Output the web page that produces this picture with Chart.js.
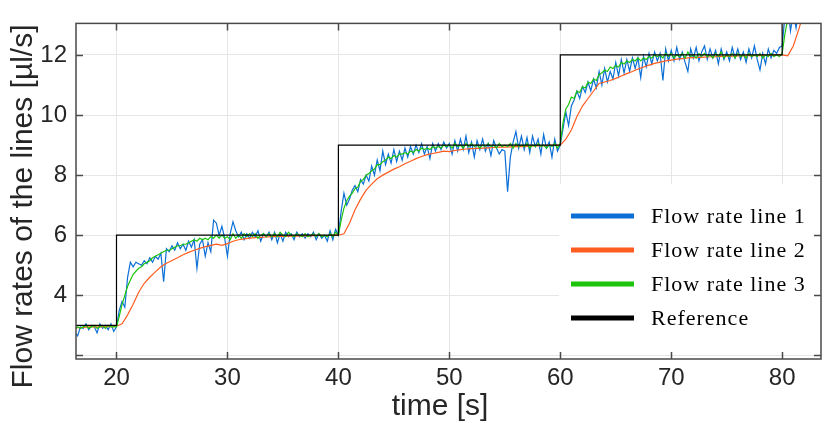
<!DOCTYPE html>
<html>
<head>
<meta charset="utf-8">
<script src="https://cdn.jsdelivr.net/npm/chart.js@4.4.0/dist/chart.umd.min.js"></script>
<style>
html, body { margin: 0; padding: 0; background: #fff; }
#wrap { width: 829px; height: 423px; }
</style>
</head>
<body>
<div id="wrap"><canvas id="flow_canvas"></canvas></div>
<script>
// sample times [s] for line 1 and line 3
const time = [
	16.25, 16.5, 16.75,
	17, 17.25, 17.5, 17.75, 18, 18.25, 18.5, 18.75, 19, 19.25, 19.5, 19.75,
	20, 20.25, 20.5, 20.75, 21, 21.25, 21.5, 21.75, 22, 22.25, 22.5, 22.75,
	23, 23.25, 23.5, 23.75, 24, 24.25, 24.5, 24.75, 25, 25.25, 25.5, 25.75,
	26, 26.25, 26.5, 26.75, 27, 27.25, 27.5, 27.75, 28, 28.25, 28.5, 28.75,
	29, 29.25, 29.5, 29.75, 30, 30.25, 30.5, 30.75, 31, 31.25, 31.5, 31.75,
	32, 32.25, 32.5, 32.75, 33, 33.25, 33.5, 33.75, 34, 34.25, 34.5, 34.75,
	35, 35.25, 35.5, 35.75, 36, 36.25, 36.5, 36.75, 37, 37.25, 37.5, 37.75,
	38, 38.25, 38.5, 38.75, 39, 39.25, 39.5, 39.75, 40, 40.25, 40.5, 40.75,
	41, 41.25, 41.5, 41.75, 42, 42.25, 42.5, 42.75, 43, 43.25, 43.5, 43.75,
	44, 44.25, 44.5, 44.75, 45, 45.25, 45.5, 45.75, 46, 46.25, 46.5, 46.75,
	47, 47.25, 47.5, 47.75, 48, 48.25, 48.5, 48.75, 49, 49.25, 49.5, 49.75,
	50, 50.25, 50.5, 50.75, 51, 51.25, 51.5, 51.75, 52, 52.25, 52.5, 52.75,
	53, 53.25, 53.5, 53.75, 54, 54.25, 54.5, 54.75, 55, 55.25, 55.5, 55.75,
	56, 56.25, 56.5, 56.75, 57, 57.25, 57.5, 57.75, 58, 58.25, 58.5, 58.75,
	59, 59.25, 59.5, 59.75, 60, 60.25, 60.5, 60.75, 61, 61.25, 61.5, 61.75,
	62, 62.25, 62.5, 62.75, 63, 63.25, 63.5, 63.75, 64, 64.25, 64.5, 64.75,
	65, 65.25, 65.5, 65.75, 66, 66.25, 66.5, 66.75, 67, 67.25, 67.5, 67.75,
	68, 68.25, 68.5, 68.75, 69, 69.25, 69.5, 69.75, 70, 70.25, 70.5, 70.75,
	71, 71.25, 71.5, 71.75, 72, 72.25, 72.5, 72.75, 73, 73.25, 73.5, 73.75,
	74, 74.25, 74.5, 74.75, 75, 75.25, 75.5, 75.75, 76, 76.25, 76.5, 76.75,
	77, 77.25, 77.5, 77.75, 78, 78.25, 78.5, 78.75, 79, 79.25, 79.5, 79.75,
	80, 80.25, 80.5, 80.75, 81, 81.25, 81.5, 81.75, 82
];

const line1 = [
	2.75, 2.65, 2.95,
	2.9, 3.05, 2.85, 3.0, 2.95, 2.75, 3.05, 2.9, 3.0, 2.85, 3.05, 2.8,
	2.95, 3.5, 3.8, 3.6, 4.6, 5.1, 4.95, 5.1, 5.05, 5.0, 5.15, 5.05,
	5.25, 5.1, 5.3, 5.2, 5.4, 4.45, 5.55, 5.45, 5.65, 5.5, 5.75, 5.55,
	5.7, 5.5, 5.8, 5.6, 5.85, 4.9, 5.7, 5.85, 5.3, 5.75, 5.45, 6.5,
	6.4, 6.0, 6.3, 5.9, 5.3, 6.05, 6.45, 6.15, 5.95, 6.1, 5.85, 6.05,
	5.9, 6.1, 5.95, 6.15, 5.8, 6.05, 5.95, 6.1, 5.85, 6.1, 5.75, 6.05,
	5.8, 6.1, 5.95, 6.05, 5.85, 6.1, 5.95, 6.05, 5.9, 6.05, 5.95, 6.1,
	5.85, 6.05, 5.9, 6.0, 5.8, 6.15, 5.85, 6.2, 6.0, 6.8, 7.4, 7.0,
	7.2, 7.5, 7.65, 7.45, 7.85, 7.7, 8.0, 7.8, 8.3, 8.0, 8.5, 8.15,
	8.8, 8.35, 8.7, 8.4, 8.85, 8.45, 8.8, 8.5, 8.9, 8.6, 8.95, 8.7,
	9.0, 8.75, 9.05, 8.7, 8.95, 8.55, 9.05, 8.8, 9.05, 8.85, 9.1, 8.9,
	9.05, 8.7, 9.15, 8.8, 9.2, 8.85, 9.3, 8.75, 9.1, 8.6, 9.15, 8.85,
	9.2, 8.8, 9.05, 8.65, 9.15, 8.9, 8.7, 8.85, 8.8, 7.45, 8.6, 9.1,
	9.45, 8.9, 9.3, 8.85, 9.25, 8.75, 9.3, 8.95, 9.2, 8.7, 9.35, 8.9,
	9.1, 8.6, 9.2, 8.8, 9.0, 9.55, 10.1, 9.65, 10.3, 10.5, 10.8, 10.55,
	10.95, 10.75, 11.1, 10.8, 11.2, 10.9, 11.45, 11.0, 11.55, 11.1, 11.45, 11.2,
	11.75, 11.3, 11.85, 11.4, 11.85, 11.45, 11.9, 11.55, 11.9, 11.25, 11.95, 11.6,
	12.05, 11.7, 12.1, 11.8, 12.05, 11.15, 12.2, 11.8, 12.15, 11.8, 12.25, 11.85,
	12.1, 11.75, 11.45, 12.2, 11.9, 12.25, 11.8, 12.1, 12.3, 11.85, 12.2, 11.9,
	12.15, 11.7, 12.2, 11.85, 12.1, 11.8, 12.25, 11.9, 12.2, 11.85, 12.1, 11.75,
	12.2, 11.9, 12.3, 11.85, 11.5, 12.05, 11.7, 12.2, 11.9, 12.15, 12.05, 12.25,
	12.3, 13.3, 13.6, 12.8, 13.4, 12.9, 13.6, 14.0, 14.4
];

const line3 = [
	2.9, 2.95, 2.9,
	2.95, 3.0, 2.9, 2.95, 3.0, 2.9, 2.95, 3.0, 2.9, 3.0, 2.95, 2.95,
	2.95, 3.3, 3.7, 4.0, 4.3, 4.5, 4.7, 4.8, 4.9, 4.95, 5.05, 5.1,
	5.15, 5.25, 5.3, 5.35, 5.4, 5.45, 5.5, 5.5, 5.55, 5.6, 5.65, 5.65,
	5.7, 5.7, 5.75, 5.8, 5.85, 5.8, 5.9, 5.85, 5.9, 5.85, 5.95, 5.9,
	6.0, 5.9, 6.0, 5.9, 5.95, 5.85, 6.05, 5.9, 6.0, 5.9, 6.05, 5.95,
	6.05, 5.95, 6.05, 5.9, 6.0, 6.05, 5.95, 6.05, 5.95, 6.05, 5.95, 6.1,
	6.0, 5.95, 6.1, 6.0, 5.95, 6.05, 6.0, 5.95, 6.05, 5.95, 6.0, 6.05,
	5.95, 6.05, 5.95, 6.0, 5.95, 6.05, 5.95, 6.1, 6.0, 6.5, 6.9, 7.15,
	7.3, 7.4, 7.55, 7.6, 7.8, 7.85, 8.0, 8.05, 8.15, 8.2, 8.35, 8.35,
	8.45, 8.5, 8.6, 8.55, 8.65, 8.6, 8.7, 8.7, 8.75, 8.7, 8.8, 8.75,
	8.85, 8.8, 8.9, 8.85, 8.9, 8.85, 8.95, 8.9, 8.95, 8.9, 9.0, 8.95,
	9.0, 8.9, 9.05, 8.95, 9.0, 8.9, 9.05, 8.95, 9.05, 8.95, 9.0, 8.9,
	9.0, 8.95, 9.05, 8.95, 9.0, 8.9, 9.05, 8.95, 9.0, 8.95, 9.05, 8.9,
	9.05, 8.95, 9.0, 8.95, 9.05, 8.9, 9.0, 8.95, 9.05, 8.95, 9.0, 8.9,
	9.0, 8.95, 9.05, 8.9, 9.05, 9.75, 10.2, 10.35, 10.6, 10.55, 10.8, 10.75,
	10.95, 10.9, 11.1, 11.05, 11.2, 11.15, 11.35, 11.4, 11.5, 11.45, 11.6, 11.55,
	11.65, 11.6, 11.75, 11.7, 11.8, 11.75, 11.85, 11.8, 11.9, 11.8, 11.9, 11.85,
	11.95, 11.9, 12.0, 11.95, 12.0, 11.9, 12.05, 11.95, 12.05, 11.9, 12.0, 11.95,
	12.05, 11.9, 12.1, 11.95, 12.0, 11.9, 12.05, 11.95, 12.05, 11.95, 12.0, 11.9,
	12.05, 11.95, 12.1, 11.9, 12.0, 11.95, 12.05, 11.9, 12.05, 11.95, 12.0, 11.9,
	12.05, 11.95, 12.0, 11.95, 12.05, 11.9, 12.0, 11.95, 12.05, 11.95, 12.0, 11.95,
	12.05, 12.7, 13.2, 13.5, 13.8, 14.0, 14.2, 14.3, 14.4
];

// line 2 is smooth, sampled every 0.5 s
const timeSlow = [
	16, 16.5, 17, 17.5, 18, 18.5, 19, 19.5, 20, 20.5, 21, 21.5, 22, 22.5,
	23, 23.5, 24, 24.5, 25, 25.5, 26, 26.5, 27, 27.5, 28, 28.5, 29, 29.5,
	30, 30.5, 31, 31.5, 32, 32.5, 33, 33.5, 34, 34.5, 35, 35.5, 36, 36.5,
	37, 37.5, 38, 38.5, 39, 39.5, 40, 40.5, 41, 41.5, 42, 42.5, 43, 43.5,
	44, 44.5, 45, 45.5, 46, 46.5, 47, 47.5, 48, 48.5, 49, 49.5, 50, 50.5,
	51, 51.5, 52, 52.5, 53, 53.5, 54, 54.5, 55, 55.5, 56, 56.5, 57, 57.5,
	58, 58.5, 59, 59.5, 60, 60.5, 61, 61.5, 62, 62.5, 63, 63.5, 64, 64.5,
	65, 65.5, 66, 66.5, 67, 67.5, 68, 68.5, 69, 69.5, 70, 70.5, 71, 71.5,
	72, 72.5, 73, 73.5, 74, 74.5, 75, 75.5, 76, 76.5, 77, 77.5, 78, 78.5,
	79, 79.5, 80, 80.5, 81, 81.5, 82, 82.5
];

const line2 = [
	2.9, 2.92, 2.93, 2.95, 2.95, 2.95, 2.96, 2.96, 2.97, 3.05, 3.35, 3.7, 4.1, 4.4,
	4.6, 4.78, 4.95, 5.07, 5.16, 5.25, 5.35, 5.43, 5.5, 5.56, 5.62, 5.66, 5.7, 5.66,
	5.72, 5.8, 5.85, 5.88, 5.9, 5.92, 5.93, 5.94, 5.95, 5.96, 5.96, 5.97, 5.97, 5.98,
	5.98, 5.98, 5.99, 5.99, 5.99, 6.0, 6.0, 6.05, 6.4, 6.85, 7.2, 7.5, 7.7, 7.88,
	8.0, 8.1, 8.2, 8.28, 8.38, 8.46, 8.55, 8.62, 8.68, 8.72, 8.76, 8.8, 8.78, 8.82,
	8.85, 8.87, 8.88, 8.89, 8.9, 8.91, 8.92, 8.93, 8.93, 8.94, 8.95, 8.95, 8.96, 8.97,
	8.97, 8.98, 8.99, 9.0, 9.0, 9.2, 9.5, 9.95, 10.3, 10.55, 10.8, 11.05, 11.1, 11.15,
	11.22, 11.3, 11.38, 11.45, 11.53, 11.6, 11.66, 11.72, 11.76, 11.8, 11.83, 11.86, 11.88, 11.9,
	11.91, 11.92, 11.93, 11.94, 11.94, 11.95, 11.96, 11.96, 11.97, 11.97, 11.98, 11.98, 11.98, 11.99,
	11.99, 12.0, 12.0, 11.97, 12.3, 12.85, 13.5, 14.0
];

const refTime = [16, 20, 20, 40, 40, 60, 60, 80, 80, 84];
const refValues = [3, 3, 6, 6, 9, 9, 12, 12, 15, 15];

const xTicks = [20, 30, 40, 50, 60, 70, 80];
const yTicks = [2, 4, 6, 8, 10, 12];
const yTickLabels = ['', '4', '6', '8', '10', '12'];

const seriesNames = ['Flow rate line 1', 'Flow rate line 2', 'Flow rate line 3', 'Reference'];
const seriesColors = ['#0b6fd6', '#ff5c1f', '#1dc40c', '#000000'];

const sansFont = '"Liberation Sans", Arial, sans-serif';
const axisColor = '#262626';

function toPoints(xs, ys) {
	return ys.map((v, i) => ({ x: xs[i], y: v }));
}

const framePlugin = {
	id: 'frame',
	afterDatasetsDraw(chart) {
		const ctx = chart.ctx;
		const a = chart.chartArea;
		const xs = chart.scales.x;
		const ys = chart.scales.y;
		ctx.save();

		// legend, inside the axes, no border
		ctx.fillStyle = '#fff';
		ctx.fillRect(559, 184, a.right - 559, 168);
		ctx.font = '22px "Liberation Serif", "DejaVu Serif", serif';
		ctx.letterSpacing = '1px';
		ctx.textBaseline = 'alphabetic';
		seriesNames.forEach((name, i) => {
			const ly = 216 + i * 34;
			ctx.strokeStyle = seriesColors[i];
			ctx.lineWidth = 5;
			ctx.beginPath();
			ctx.moveTo(571, ly);
			ctx.lineTo(634, ly);
			ctx.stroke();
			ctx.fillStyle = '#000';
			ctx.fillText(name, 651, ly + 7);
		});
		ctx.letterSpacing = '0px';

		// box and inner ticks
		ctx.strokeStyle = '#4a4a4a';
		ctx.lineWidth = 1.5;
		ctx.strokeRect(a.left, a.top, a.right - a.left, a.bottom - a.top);
		ctx.beginPath();
		xTicks.forEach(v => {
			const px = Math.round(xs.getPixelForValue(v)) + 0.5;
			ctx.moveTo(px, a.bottom); ctx.lineTo(px, a.bottom - 7);
			ctx.moveTo(px, a.top); ctx.lineTo(px, a.top + 7);
		});
		yTicks.forEach(v => {
			const py = Math.round(ys.getPixelForValue(v)) + 0.5;
			ctx.moveTo(a.left, py); ctx.lineTo(a.left + 7, py);
			ctx.moveTo(a.right, py); ctx.lineTo(a.right - 7, py);
		});
		ctx.stroke();

		// axis titles
		ctx.fillStyle = axisColor;
		ctx.font = '30px ' + sansFont;
		ctx.textAlign = 'center';
		ctx.textBaseline = 'alphabetic';
		ctx.fillText('time [s]', 440, 415);
		ctx.translate(31.5, 206.5);
		ctx.rotate(-Math.PI / 2);
		ctx.fillText('Flow rates of the lines [µl/s]', 0, 0);
		ctx.restore();
	}
};

const ctx = document.getElementById('flow_canvas').getContext('2d');
const flow_chart = new Chart(ctx, {
	type: 'scatter',
	data: {
		datasets: [
			{ label: seriesNames[0], data: toPoints(time, line1), borderColor: seriesColors[0], order: 4 },
			{ label: seriesNames[1], data: toPoints(timeSlow, line2), borderColor: seriesColors[1], order: 3 },
			{ label: seriesNames[2], data: toPoints(time, line3), borderColor: seriesColors[2], order: 2 },
			{ label: seriesNames[3], data: toPoints(refTime, refValues), borderColor: seriesColors[3], order: 1 }
		]
	},
	options: {
		responsive: true,
		maintainAspectRatio: false,
		animation: false,
		layout: { padding: { top: 20, right: 8, left: 0, bottom: 0 } },
		datasets: { scatter: { showLine: true, borderWidth: 1.2, pointRadius: 0, tension: 0 } },
		plugins: { legend: { display: false }, tooltip: { enabled: false } },
		scales: {
			x: {
				type: 'linear',
				min: 16.35,
				max: 83.5,
				afterBuildTicks: s => { s.ticks = xTicks.map(v => ({ value: v })); },
				afterFit: s => { s.height = 64; },
				grid: { color: '#e6e6e6', lineWidth: 1, drawTicks: false },
				border: { display: false },
				ticks: { padding: 5, color: axisColor, font: { family: sansFont, size: 24 } }
			},
			y: {
				type: 'linear',
				min: 1.88,
				max: 13.05,
				afterBuildTicks: s => { s.ticks = yTicks.map(v => ({ value: v })); },
				afterFit: s => { s.width = 76; },
				grid: { color: '#e6e6e6', lineWidth: 1, drawTicks: false },
				border: { display: false },
				ticks: {
					padding: 9,
					color: axisColor,
					font: { family: sansFont, size: 24 },
					callback: (v, i) => yTickLabels[i]
				}
			}
		}
	},
	plugins: [framePlugin]
});
</script>
</body>
</html>
